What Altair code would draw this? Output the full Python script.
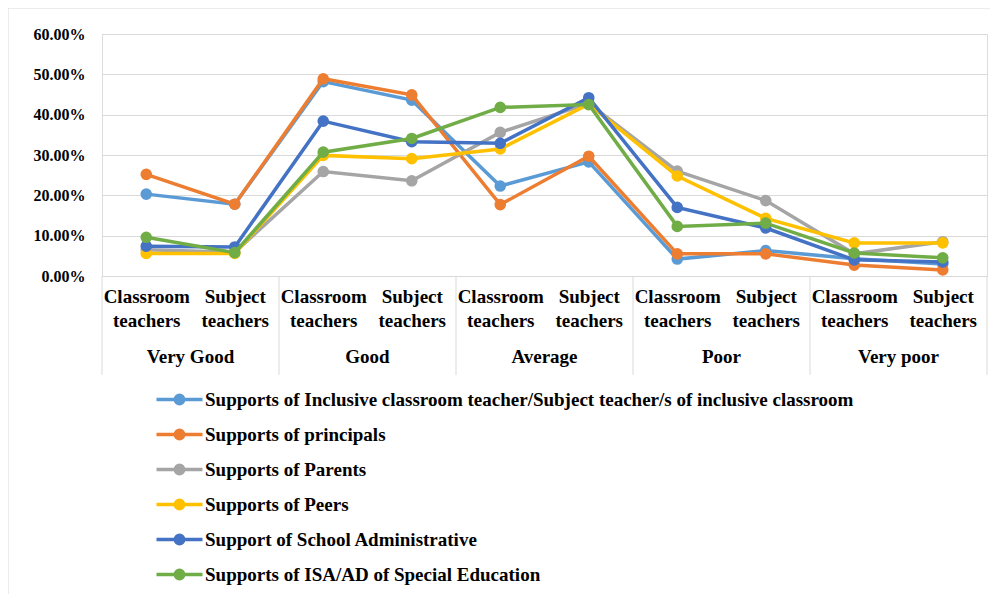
import altair as alt
import pandas as pd

ratings = ["Very Good", "Good", "Average", "Poor", "Very poor"]
teacher_types = ["Classroom teachers", "Subject teachers"]

series_names = [
    "Supports of Inclusive classroom teacher/Subject teacher/s of inclusive classroom",
    "Supports of principals",
    "Supports of Parents",
    "Supports of Peers",
    "Support of School Administrative",
    "Supports of ISA/AD of Special Education",
]
colors = ["#5B9BD5", "#ED7D31", "#A5A5A5", "#FFC000", "#4472C4", "#70AD47"]

# values in percent, order: VG-C, VG-S, G-C, G-S, A-C, A-S, P-C, P-S, VP-C, VP-S
inclusive_teacher = [20.3, 17.8, 48.2, 43.6, 22.3, 28.3, 4.2, 6.3, 4.3, 3.0]
principals = [25.2, 17.8, 48.9, 44.9, 17.7, 29.7, 5.5, 5.5, 2.7, 1.5]
parents = [6.5, 5.9, 25.9, 23.6, 35.6, 42.8, 26.0, 18.7, 5.5, 8.5]
peers = [5.6, 5.6, 29.9, 29.1, 31.5, 42.6, 24.8, 14.3, 8.2, 8.2]
school_admin = [7.4, 7.2, 38.4, 33.3, 32.9, 44.2, 17.0, 11.9, 4.0, 3.5]
isa_ad = [9.6, 5.8, 30.7, 34.1, 41.8, 42.5, 12.3, 13.1, 5.7, 4.5]

all_values = [inclusive_teacher, principals, parents, peers, school_admin, isa_ad]

rows = []
for s_idx, (name, vals) in enumerate(zip(series_names, all_values)):
    for i, v in enumerate(vals):
        rows.append({"series": name, "order": s_idx, "idx": i,
                     "rating": ratings[i // 2], "teacher": teacher_types[i % 2],
                     "value": v / 100.0})
df = pd.DataFrame(rows)

groups_df = pd.DataFrame({"rating": ratings, "center": [0.5, 2.5, 4.5, 6.5, 8.5]})
sep_df = pd.DataFrame({"pos": [-0.5, 1.5, 3.5, 5.5, 7.5, 9.5]})

W, H = 885, 242
FONT = "Liberation Serif"
BIG = 19

x_scale = alt.Scale(domain=[-0.5, 9.5], nice=False, zero=False)
y_scale = alt.Scale(domain=[0, 0.6], nice=False)

color_scale = alt.Scale(domain=series_names, range=colors)

legend_path = ("M-2,0L2,0M-0.36,0A0.36,0.36,0,1,0,0.36,0"
               "A0.36,0.36,0,1,0,-0.36,0Z")

legend = alt.Legend(
    title=None, orient="none", legendX=42, legendY=352, direction="vertical",
    symbolType=legend_path, symbolSize=529, symbolStrokeWidth=3.5,
    labelFont=FONT, labelFontSize=BIG, labelFontWeight="bold", labelColor="#000000",
    labelLimit=0, rowPadding=10, labelOffset=12, symbolOffset=22, padding=0,
)

layers = []
for s_idx, name in enumerate(series_names):
    sub = df[df["series"] == name]
    layer = alt.Chart(sub).mark_line(
        strokeWidth=3.5,
        point=alt.OverlayMarkDef(filled=True, size=135, opacity=1),
    ).encode(
        x=alt.X("idx:Q", scale=x_scale,
                axis=alt.Axis(
                    values=list(range(10)), title=None, grid=False, ticks=False,
                    domain=True, domainColor="#D9D9D9", domainWidth=1,
                    labelExpr="datum.value % 2 == 0 ? ['Classroom','teachers'] : ['Subject','teachers']",
                    labelFont=FONT, labelFontSize=BIG, labelFontWeight="bold",
                    labelColor="#000000", labelLineHeight=24, labelPadding=11,
                    labelFlush=False, labelOverlap=False,
                )),
        y=alt.Y("value:Q", scale=y_scale,
                axis=alt.Axis(
                    values=[0, 0.1, 0.2, 0.3, 0.4, 0.5, 0.6], format=".2%",
                    title=None, domain=False, ticks=False, grid=True,
                    gridColor="#D9D9D9", gridWidth=1,
                    labelFont=FONT, labelFontSize=16, labelFontWeight="bold",
                    labelColor="#000000", labelPadding=17,
                )),
        color=alt.Color("series:N", scale=color_scale, legend=legend),
    )
    layers.append(layer)

separators = alt.Chart(sep_df).mark_rule(color="#D9D9D9", strokeWidth=1).encode(
    x=alt.X("pos:Q", scale=x_scale),
    y=alt.value(H),
    y2=alt.value(H + 99),
)

group_labels = alt.Chart(groups_df).mark_text(
    font=FONT, fontSize=BIG, fontWeight="bold", color="#000000",
    baseline="middle", align="center",
).encode(
    x=alt.X("center:Q", scale=x_scale),
    y=alt.value(H + 81),
    text="rating:N",
)

frame_left = alt.Chart(sep_df.head(1)).mark_rule(color="#D9D9D9").encode(
    x=alt.value(-94), y=alt.value(-26), y2=alt.value(560))
frame_top = alt.Chart(sep_df.head(1)).mark_rule(color="#D9D9D9").encode(
    x=alt.value(-94), x2=alt.value(888), y=alt.value(-26))

chart = alt.layer(
    frame_left, frame_top, separators, group_labels, *layers
).properties(
    width=W, height=H,
    autosize=alt.AutoSizeParams(type="none"),
    padding={"left": 94, "top": 26, "right": 3, "bottom": 318},
).configure_view(stroke=None).configure(background="white")

chart.save("out.html", embed_options={"renderer": "svg", "actions": False})
